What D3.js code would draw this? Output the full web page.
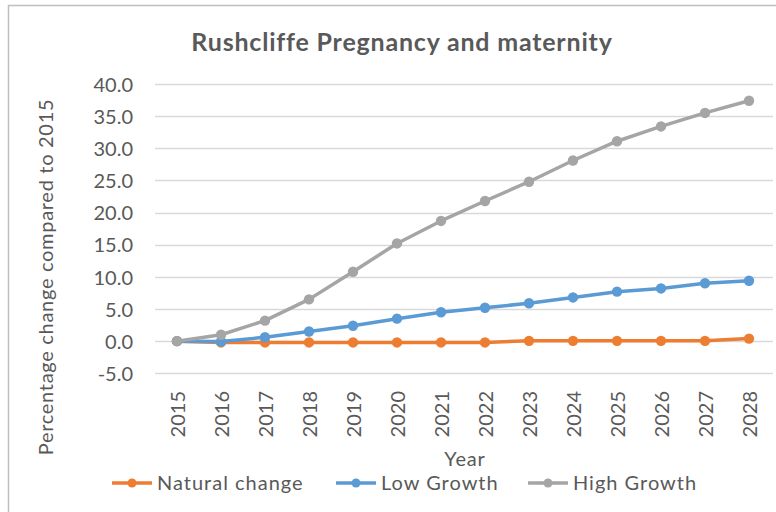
<!DOCTYPE html>
<html><head><meta charset="utf-8">
<script src="https://cdn.jsdelivr.net/npm/d3@7"></script>
<style>html,body{margin:0;padding:0;background:#fff;}svg{display:block;}</style>
</head><body>
<script>
const years = ["2015","2016","2017","2018","2019","2020","2021","2022","2023","2024","2025","2026","2027","2028"];
const naturalChange = [0, -0.2, -0.2, -0.2, -0.2, -0.2, -0.2, -0.2, 0.05, 0.05, 0.05, 0.05, 0.05, 0.4];
const lowGrowth = [0, -0.05, 0.6, 1.5, 2.4, 3.5, 4.5, 5.2, 5.9, 6.8, 7.7, 8.2, 9.0, 9.4];
const highGrowth = [0, 1.0, 3.2, 6.5, 10.8, 15.2, 18.7, 21.8, 24.8, 28.1, 31.1, 33.4, 35.5, 37.4];
const yTicks = [-5, 0, 5, 10, 15, 20, 25, 30, 35, 40];
const seriesNames = ["Natural change", "Low Growth", "High Growth"];
const seriesColors = ["#ED7D31", "#5B9BD5", "#A5A5A5"];
const series = [naturalChange, lowGrowth, highGrowth];

const W = 776, H = 512;
const FONT = "Lato, 'Open Sans', sans-serif";
const TXT = "#595959";
const svg = d3.select("body").append("svg").attr("width", W).attr("height", H);

svg.append("rect").attr("x", 8.5).attr("y", 5.5).attr("width", W + 10).attr("height", H + 10)
  .attr("fill", "#fff").attr("stroke", "#BFBFBF").attr("stroke-width", 1.5);

const x = d3.scalePoint().domain(years).range([155, 771]).padding(0.5);
const y = d3.scaleLinear().domain([-5, 40]).range([373.3, 84]);

// gridlines
svg.append("g").selectAll("line").data(yTicks).join("line")
  .attr("x1", 155).attr("x2", 773)
  .attr("y1", d => Math.round(y(d)) + 0.5).attr("y2", d => Math.round(y(d)) + 0.5)
  .attr("stroke", "#D9D9D9").attr("stroke-width", 1.3);

// y axis
const yAxis = svg.append("g").attr("transform", "translate(142,0)")
  .call(d3.axisLeft(y).tickValues(yTicks).tickSize(0).tickPadding(0).tickFormat(d3.format(".1f")));
yAxis.select(".domain").remove();
yAxis.selectAll("text").attr("font-family", FONT).attr("font-size", 20).attr("fill", TXT)
  .attr("x", -9).attr("dy", "0.36em").text(d => d3.format(".1f")(d).replace("−", "-"));

// x axis
const xAxis = svg.append("g").attr("transform", "translate(0,391)")
  .call(d3.axisBottom(x).tickSize(0).tickPadding(0));
xAxis.select(".domain").remove();
xAxis.selectAll("text").attr("font-family", FONT).attr("font-size", 20).attr("fill", TXT)
  .attr("transform", "rotate(-90)").attr("text-anchor", "end")
  .attr("x", 0).attr("y", 0).attr("dy", "0.36em");

// lines
const line = d3.line().x((d, i) => x(years[i])).y(d => y(d));
series.forEach((s, k) => {
  const g = svg.append("g");
  g.append("path").datum(s).attr("d", line).attr("fill", "none")
    .attr("stroke", seriesColors[k]).attr("stroke-width", 3.5).attr("stroke-linejoin", "round").attr("stroke-linecap", "round");
  g.selectAll("circle").data(s).join("circle")
    .attr("cx", (d, i) => x(years[i])).attr("cy", d => y(d)).attr("r", 5.2)
    .attr("fill", seriesColors[k]);
});

// title
svg.append("text").attr("x", 402).attr("y", 51).attr("text-anchor", "middle")
  .attr("font-family", FONT).attr("font-weight", "bold").attr("font-size", 25)
  .attr("letter-spacing", 0.8).attr("fill", TXT)
  .text("Rushcliffe Pregnancy and maternity");

// axis titles
svg.append("text").attr("transform", "translate(53,277) rotate(-90)").attr("text-anchor", "middle")
  .attr("font-family", FONT).attr("font-size", 20).attr("letter-spacing", 0.7).attr("fill", TXT)
  .text("Percentage change compared to 2015");
svg.append("text").attr("x", 465).attr("y", 466).attr("text-anchor", "middle")
  .attr("font-family", FONT).attr("font-size", 20).attr("letter-spacing", 0.8).attr("fill", TXT).text("Year");

// legend
const legendX = [112, 336, 528];
const leg = svg.append("g").selectAll("g").data(seriesNames).join("g")
  .attr("transform", (d, i) => `translate(${legendX[i]},483)`);
leg.append("line").attr("x1", 0).attr("x2", 40).attr("y1", 0).attr("y2", 0)
  .attr("stroke", (d, i) => seriesColors[i]).attr("stroke-width", 3.5);
leg.append("circle").attr("cx", 20).attr("cy", 0).attr("r", 4.5).attr("fill", (d, i) => seriesColors[i]);
leg.append("text").attr("x", 45).attr("y", 0).attr("dy", "0.36em")
  .attr("font-family", FONT).attr("font-size", 20).attr("letter-spacing", 1).attr("fill", TXT).text(d => d);
</script>
</body></html>
